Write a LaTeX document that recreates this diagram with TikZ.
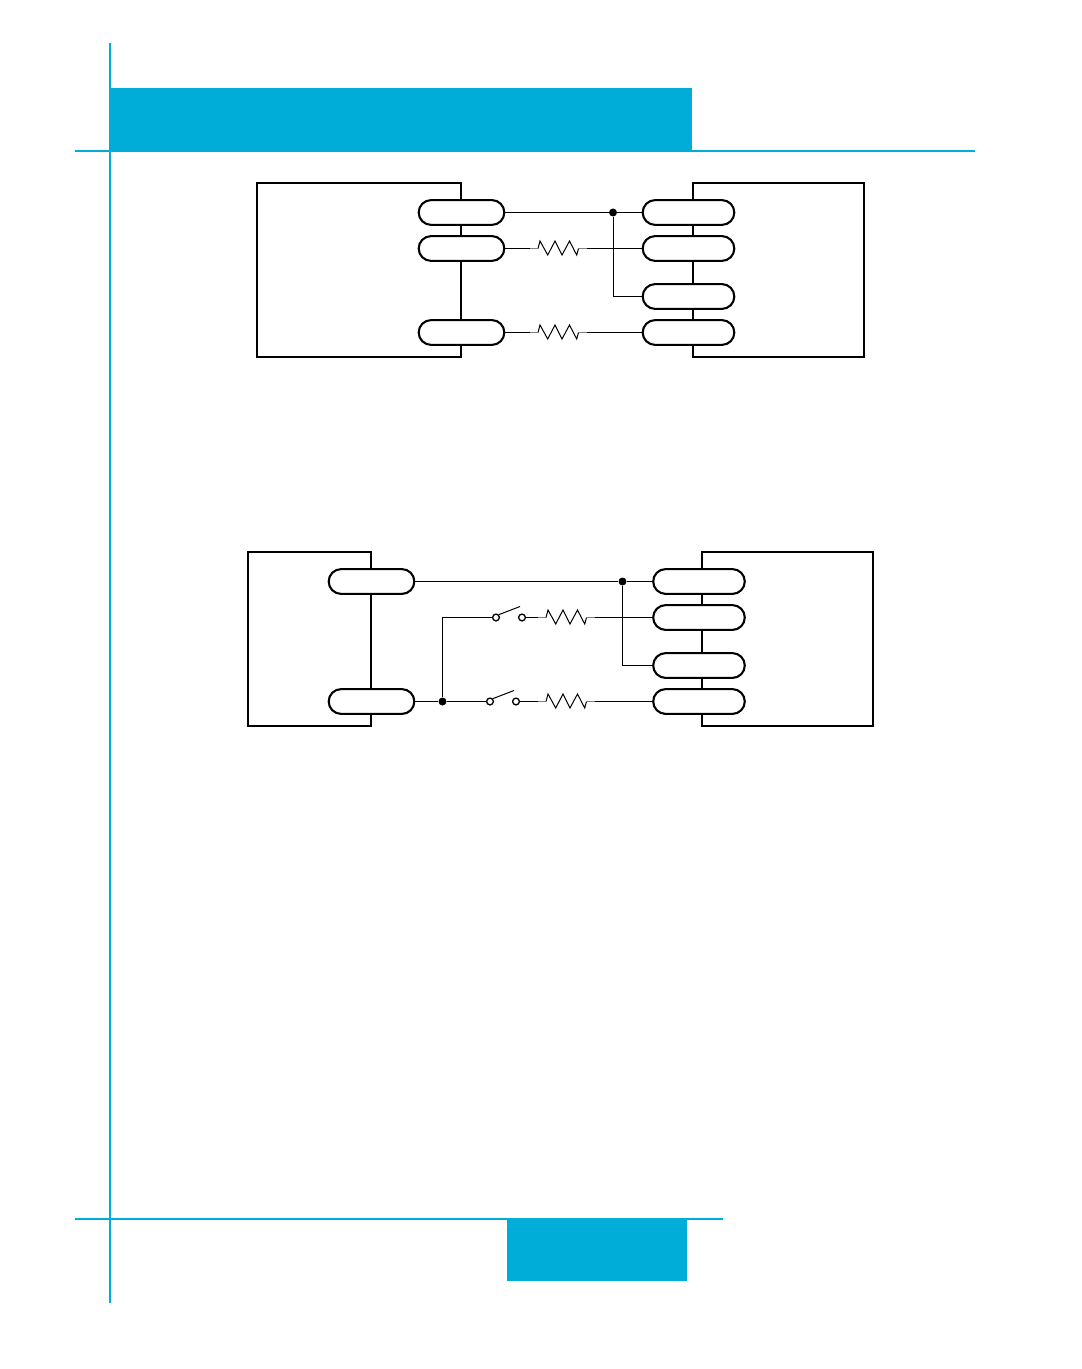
\documentclass[tikz,border=0pt]{standalone}
\usetikzlibrary{shapes.misc}
\definecolor{pagecyan}{RGB}{0,173,216}
\tikzset{
	unitbox/.style = {black, line width = 1pt},
	wire/.style = {black, line width = 0.5pt},
	pill/.style = {draw, black, fill = white, line width = 1.05pt, rounded rectangle, inner sep = 0, minimum height = 12.4pt},
	leftpill/.style = {pill, minimum width = 42.8pt},
	rightpill/.style = {pill, minimum width = 45.8pt},
	junction/.style = {circle, fill = black, inner sep = 0, minimum size = 4pt},
	contact/.style = {circle, draw, black, fill = white, line width = 0.65pt, inner sep = 0, minimum size = 3.4pt},
	pics/resistor/.style = {code = {
		\coordinate (-in) at (0, 0);
		\coordinate (-out) at (57, 0);
		\draw[wire, gray] (-in) -- (8, 0);
		\draw[wire] (8, 0) -- (10, 7.5) -- (17.7, -6.5) -- (25, 7.5) -- (32, -6.5) -- (39.5, 7.5) -- (46.7, -6.5) -- (48.5, 0);
		\draw[wire, gray] (48.5, 0) -- (-out);
	}}
}
\begin{document}
\begin{tikzpicture}[x = 0.5pt, y = 0.5pt]
	\useasboundingbox (0, 0) rectangle (1081, -1369);
	
	%	page frame
	\fill[pagecyan] (110, -88) rectangle (692, -150.5);
	\fill[pagecyan] (507, -1219) rectangle (687, -1281);
	\draw[pagecyan, line width = 0.9pt] (110, -43) -- (110, -1303);
	\draw[pagecyan, line width = 0.6pt] (75, -151) -- (975, -151);
	\draw[pagecyan, line width = 0.9pt] (75, -1219) -- (723, -1219);
	
	%	upper circuit
	\draw[unitbox] (257, -183) rectangle (461, -357);
	\draw[unitbox] (693, -183) rectangle (864, -357);
	
	\foreach \name/\y in {1/212.5, 2/248.5, 4/332.5}
		\node[leftpill] (la\name) at (461.5, -\y) {};
	\foreach \name/\y in {1/212.5, 2/248.5, 3/296.5, 4/332.5}
		\node[rightpill] (ra\name) at (688.5, -\y) {};
	
	\node[junction] (ja) at (613, -212.5) {};
	\pic (ra) at (530, -248.5) {resistor};
	\pic (rb) at (530, -332.5) {resistor};
	
	\draw[wire] (la1.east) -- (ja) -- (ra1.west);
	\draw[wire] (ja) |- (ra3.west);
	\draw[wire] (la2.east) -- (ra-in);
	\draw[wire] (ra-out) -- (ra2.west);
	\draw[wire] (la4.east) -- (rb-in);
	\draw[wire] (rb-out) -- (ra4.west);
	
	%	lower circuit
	\draw[unitbox] (248, -552) rectangle (371, -726);
	\draw[unitbox] (702, -552) rectangle (873, -726);
	
	\foreach \name/\y in {1/581.5, 4/701.5}
		\node[leftpill] (lb\name) at (371.5, -\y) {};
	\foreach \name/\y in {1/581.5, 2/617.5, 3/665.5, 4/701.5}
		\node[rightpill] (rb\name) at (699, -\y) {};
	
	\node[junction] (jb) at (622.5, -581.5) {};
	\node[junction] (jc) at (442.5, -701.5) {};
	\coordinate (corner) at (442.5, -617.5);
	
	%	switches
	\node[contact] (sa) at (496, -617.5) {};
	\node[contact] (sb) at (522, -617.5) {};
	\coordinate (sl) at (520, -606.5);
	\node[contact] (sc) at (490, -701.5) {};
	\node[contact] (sd) at (516, -701.5) {};
	\coordinate (sm) at (514, -690.5);
	\draw[wire] (sa.north east) -- (sl);
	\draw[wire] (sc.north east) -- (sm);
	
	\pic (rc) at (538, -617.5) {resistor};
	\pic (rd) at (538, -701.5) {resistor};
	
	\draw[wire] (lb1.east) -- (jb) -- (rb1.west);
	\draw[wire] (jb) |- (rb3.west);
	\draw[wire] (lb4.east) -- (jc) -- (sc);
	\draw[wire] (jc) -- (corner) -- (sa);
	\draw[wire] (sb) -- (rc-in);
	\draw[wire] (rc-out) -- (rb2.west);
	\draw[wire] (sd) -- (rd-in);
	\draw[wire] (rd-out) -- (rb4.west);
\end{tikzpicture}
\end{document}
